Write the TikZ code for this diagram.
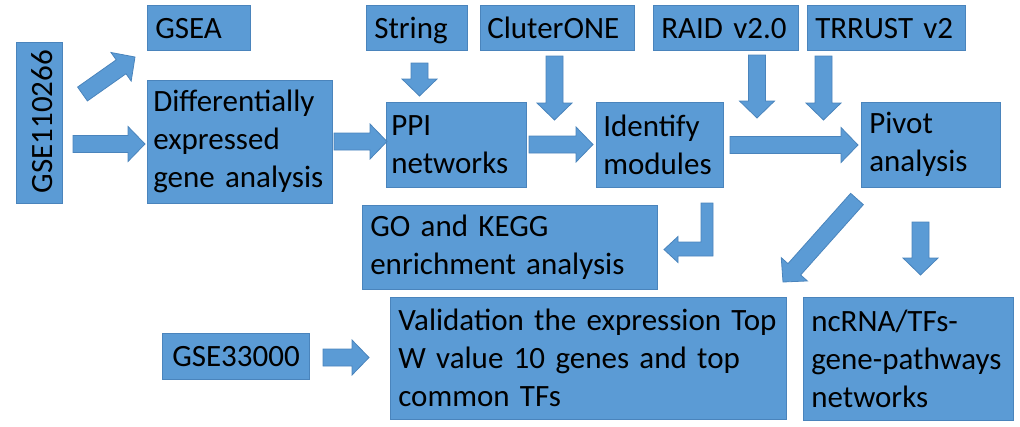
\documentclass[tikz,border=0pt]{standalone}
\usepackage{fontspec}
\setmainfont{Carlito}
\usetikzlibrary{calc}
\hyphenpenalty=10000
\exhyphenpenalty=10000
\definecolor{boxblue}{HTML}{5B9BD5}
\definecolor{edgeblue}{HTML}{4A84BC}
\newcommand{\fatarrow}[2]{%
  \path ($(#2)!17pt!(#1)$) coordinate (base);
  \draw[arrowbody] ($(#1)!8.5pt!90:(#2)$) -- ($(base)!8.5pt!90:(#2)$) -- ($(base)!17.5pt!90:(#2)$) -- (#2)
    -- ($(base)!17.5pt!-90:(#2)$) -- ($(base)!8.5pt!-90:(#2)$) -- ($(#1)!8.5pt!-90:(#2)$) -- cycle;}

\begin{document}
\begin{tikzpicture}[x=1pt,y=-1pt,
    box/.style={fill=boxblue,draw=edgeblue,line width=0.6pt,anchor=north west,inner xsep=8pt,inner ysep=0pt,align=left,font=\fontsize{31}{38}\selectfont},
    oneline/.style={text height=22pt,text depth=1pt},
    arrowbody/.style={fill=boxblue,draw=edgeblue,line width=0.8pt}]
            \useasboundingbox (0,0) rectangle (1020,426);
            \node[box,anchor=center,rotate=90,align=right,text width=145pt,minimum height=46pt,text height=27pt,text depth=1pt] (gseA) at (39,122.5) {GSE110266};
            \node[box,oneline,text width=87pt,minimum height=45pt] (gsea) at (147,5) {GSEA};
            \node[box,text width=173pt,inner xsep=6pt,minimum height=123pt] (deg) at (147,80) {Differentially\\expressed\\gene~analysis};
            \node[box,oneline,text width=85pt,minimum height=45pt] (string) at (366,5) {String};
            \node[box,oneline,text width=140pt,inner xsep=7pt,minimum height=45pt] (cluster) at (480,5) {CluterONE};
            \node[box,text width=130pt,inner xsep=5pt,minimum height=85pt] (ppi) at (386,102) {PPI\\networks};
            \node[box,text width=113pt,inner xsep=7pt,minimum height=85pt] (modules) at (596,102) {Identify\\modules};
            \node[box,oneline,text width=129pt,minimum height=45pt] (raid) at (653,5) {RAID v2.0};
            \node[box,oneline,text width=142pt,minimum height=45pt] (trrust) at (807,5) {TRRUST v2};
            \node[box,text width=123pt,minimum height=85pt] (pivot) at (861,102) {Pivot\\analysis};
            \node[box,text width=279pt,minimum height=84pt] (enrich) at (362,205) {GO and KEGG\\enrichment analysis};
            \node[box,oneline,text width=127pt,inner xsep=10pt,minimum height=46pt] (gseB) at (162,333) {GSE33000};
            \node[box,text width=380pt,minimum height=122pt] (valid) at (390,297) {Validation the expression Top\\W value 10 genes and top\\common TFs};
            \node[box,text width=194pt,minimum height=123pt] (ncrna) at (803,297) {ncRNA/TFs-\\gene-pathways\\networks};
            \coordinate (t1) at (82.5,94);   \coordinate (h1) at (135,57);
            \coordinate (t2) at (73,144);    \coordinate (h2) at (145,144);
            \coordinate (t3) at (334,141.5); \coordinate (h3) at (387,141.5);
            \coordinate (t4) at (419.5,63);  \coordinate (h4) at (419.5,96);
            \coordinate (t5) at (554.5,56);  \coordinate (h5) at (554.5,120);
            \coordinate (t6) at (529,144.5); \coordinate (h6) at (593,144.5);
            \coordinate (t7) at (757,55);    \coordinate (h7) at (757,118);
            \coordinate (t8) at (823.5,56);  \coordinate (h8) at (823.5,120);
            \coordinate (t9) at (730,145);   \coordinate (h9) at (858,145);
            \coordinate (t10) at (857,199);  \coordinate (h10) at (783,282);
            \coordinate (t11) at (920.5,222);\coordinate (h11) at (920.5,275);
            \coordinate (t12) at (323,357.5);\coordinate (h12) at (369,357.5);
            \foreach \i in {1,...,12} {\fatarrow{t\i}{h\i}}
            \draw[arrowbody] (701,203) -- (713,203) -- (713,256) -- (678,256) -- (678,262.5) -- (664,249.5) -- (678,236.5) -- (678,242) -- (701,242) -- cycle;
\end{tikzpicture}
\end{document}
